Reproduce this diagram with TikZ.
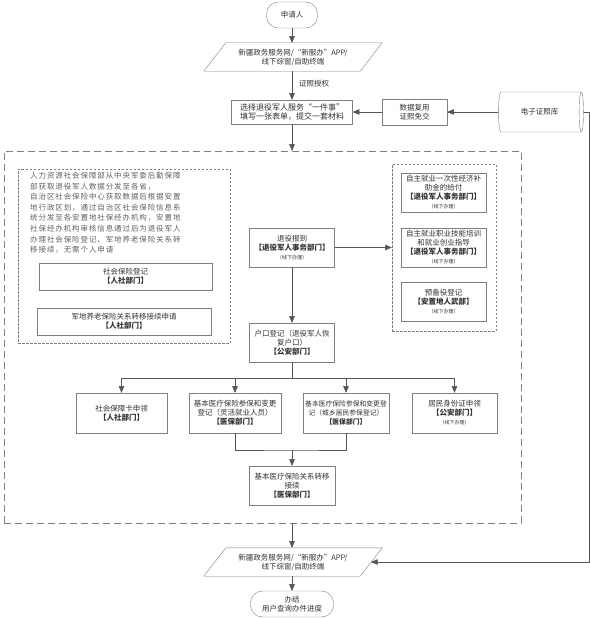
\documentclass[tikz,border=0pt]{standalone}
\usepackage{fontspec}
\newfontfamily\cjk{Noto Sans CJK SC}
\newfontfamily\cjkwide[LetterSpace=12]{Noto Sans CJK SC}
\usetikzlibrary{shapes.geometric,arrows,calc}
\definecolor{boxGray}{RGB}{128,128,128}
\definecolor{lineGray}{RGB}{85,85,85}
\definecolor{textGray}{RGB}{50,50,50}
\definecolor{noteGray}{RGB}{95,95,95}
\newcommand\offline{\\{\fontsize{5}{6.5}\selectfont （线下办理）}}
\newcommand\dept[1]{{\bfseries 【#1】}}
\tikzset{
  box/.style={draw=boxGray, fill=white, text=textGray, align=center, inner sep=1pt,
    font=\cjk\fontsize{7.5}{9}\selectfont, minimum width=85, minimum height=39},
  term/.style={box, rounded corners=12pt, minimum height=26},
  para/.style={box, draw=none, fill=none, minimum width=178, minimum height=28},
  groupbox/.style={draw=boxGray, dash pattern=on 2.5pt off 1.5pt, inner sep=0},
  stagebox/.style={draw=boxGray, dash pattern=on 7pt off 4pt, inner sep=0},
  conn/.style={draw=lineGray, line width=0.5pt}
}
\begin{document}
\begin{tikzpicture}[x=1pt,y=-1pt,>=triangle 45]
\useasboundingbox (0,0) rectangle (589,618);
% dashed areas
\node[stagebox, minimum width=517, minimum height=372] (stage) at (262.5,337) {};
\node[groupbox, minimum width=212, minimum height=174] (policy) at (124,256) {};
\node[groupbox, minimum width=104, minimum height=167] (offline) at (444,247.5) {};
% top of the flow
\node[term, minimum width=51] (apply) at (292,15) {申请人};
\node[para] (portal) at (293,57) {新疆政务服务网/“新服办”APP/\\线下综窗/自助终端};
\draw[boxGray] ($(portal.north west)+(22,0)$) -- (portal.north east)
  -- ($(portal.south east)-(22,0)$) -- (portal.south west) -- cycle;
\node[box, minimum width=121, minimum height=24, font=\cjk\fontsize{8}{9.5}\selectfont] (select) at (292,112)
  {选择退役军人服务“一件事”\\填写一张表单，提交一套材料};
\node[box, minimum width=65, minimum height=26] (reuse) at (414.5,112) {数据复用\\证照免交};
\node[box, cylinder, aspect=0.5, minimum width=40, minimum height=85] (library) at (539.5,112) {电子证照库};
\node[text=textGray, font=\cjk\fontsize{7.5}{9}\selectfont] (grant) at (314,84) {证照授权};
% social insurance note
\node[anchor=north west, inner sep=0, align=left, text=noteGray, font=\cjkwide\fontsize{7.5}{10.6}\selectfont] (note) at (30,172)
  {人力资源社会保障部从中央军委后勤保障\\
   部获取退役军人数据分发至各省，\\
   自治区社会保险中心获取数据后根据安置\\
   地行政区划，通过自治区社会保险信息系\\
   统分发至各安置地社保经办机构，安置地\\
   社保经办机构审核信息通过后为退役军人\\
   办理社会保险登记、军地养老保险关系转\\
   移接续，无需个人申请};
\node[box, minimum width=173, minimum height=27] (sireg) at (125.5,276.5) {社会保险登记\\\dept{人社部门}};
\node[box, minimum width=174, minimum height=27] (pension) at (124,321.5) {军地养老保险关系转移接续申请\\\dept{人社部门}};
% veterans affairs
\node[box] (report) at (292,247.5) {退役报到\\\dept{退役军人事务部门}\offline};
\node[box] (subsidy) at (443.5,192.5) {自主就业一次性经济补\\助金的给付\\\dept{退役军人事务部门}\offline};
\node[box] (training) at (443.5,247.5) {自主就业职业技能培训\\和就业创业指导\\\dept{退役军人事务部门}\offline};
\node[box] (reserve) at (443.5,302) {预备役登记\\\dept{安置地人武部}\offline};
\node[box] (hukou) at (292,342.5) {户口登记（退役军人恢\\复户口）\\\dept{公安部门}};
% second row
\node[box, minimum width=91, minimum height=40] (card) at (121.5,413) {社会保障卡申领\\\dept{人社部门}};
\node[box, minimum width=92, minimum height=40] (medflex) at (235,413) {基本医疗保险参保和变更\\登记（灵活就业人员）\\\dept{医保部门}};
\node[box, minimum width=86, minimum height=40, font=\cjk\fontsize{6.8}{9}\selectfont] (medres) at (346,413) {基本医疗保险参保和变更登\\记（城乡居民参保登记）\\\dept{医保部门}};
\node[box, minimum width=85, minimum height=40] (idcard) at (454.5,413) {居民身份证申领\\\dept{公安部门}\offline};
\node[box, minimum width=86] (transfer) at (292,485.5) {基本医疗保险关系转移\\接续\\\dept{医保部门}};
% bottom of the flow
\node[para] (portal2) at (293,562) {新疆政务服务网/“新服办”APP/\\线下综窗/自助终端};
\draw[boxGray] ($(portal2.north west)+(22,0)$) -- (portal2.north east)
  -- ($(portal2.south east)-(22,0)$) -- (portal2.south west) -- cycle;
\node[term, minimum width=83] (finish) at (292,604) {办结\\用户查询办件进度};
% connectors
\coordinate (bus) at (292,378);
\coordinate (merge) at (292,450);
\coordinate (portal2in) at (371,562);
\draw[conn,->] (apply) -- (apply |- portal.north);
\draw[conn,->] (apply |- portal.south) -- (select);
\draw[conn,->] (library) -- (reuse);
\draw[conn,->] (reuse) -- (select);
\draw[conn,->] (select) -- (select |- stage.north);
\draw[conn,->] (report) -- (report -| offline.west);
\draw[conn,->] (report) -- (hukou);
\draw[conn] (hukou) -- (bus);
\draw[conn] (card.north |- bus) -- (idcard.north |- bus);
\foreach \n in {card,medflex,medres,idcard}
  \draw[conn,->] (\n.north |- bus) -- (\n.north);
\draw[conn] (medflex.south) |- (merge) -| (medres.south);
\draw[conn,->] (merge) -- (transfer);
\draw[conn,->] (transfer |- stage.south) -- (transfer |- portal2.north);
\draw[conn,->] (library.east) -- ++(5,0) |- (portal2in);
\draw[conn,->] (transfer |- portal2.south) -- (finish);
\end{tikzpicture}
\end{document}
